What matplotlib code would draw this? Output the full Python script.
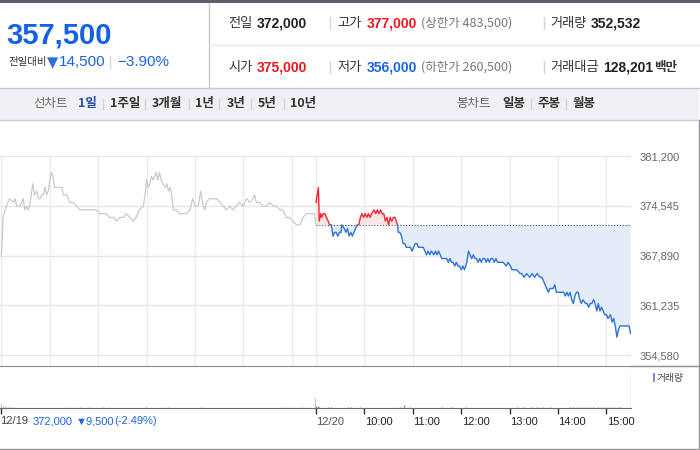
import matplotlib
matplotlib.use("Agg")
import matplotlib.pyplot as plt
from matplotlib.lines import Line2D
from matplotlib.patches import Rectangle
import numpy as np

plt.rcParams['font.family'] = ['Noto Sans CJK KR', 'DejaVu Sans']

# ---------------- data ----------------
current_price = "357,500"
change_abs = "14,500"
change_pct = "−3.90%"
prev_close = 372000
row1 = [("전일", "372,000", "#222222"), ("고가", "377,000", "#f0141e"), ("거래량", "352,532", "#222222")]
row2 = [("시가", "375,000", "#f0141e"), ("저가", "356,000", "#1d65e0"), ("거래대금", "128,201", "#222222")]
limit_up = "(상한가 483,500)"
limit_down = "(하한가 260,500)"
period_tabs = ["1일", "1주일", "3개월", "1년", "3년", "5년", "10년"]
candle_tabs = ["일봉", "주봉", "월봉"]

y_ticks = [354580, 361235, 367890, 374545, 381200]
time_ticks = [0, 60, 120, 180, 240, 300, 360]
time_labels = ["12/20", "10:00", "11:00", "12:00", "13:00", "14:00", "15:00"]
prev_day_label = "12/19"
prev_day_info = ["372,000", "▼9,500", "(-2.49%)"]

# 12/19 intraday (minutes after 9:00, price)
prev_series = [(0,368000),(1,370000),(2,373000),(6,374500),(10,375500),(15,375000),(17,375500),(19,374500),
    (23,374500),(25,375000),(27,375500),(29,374000),(31,374500),(33,374000),(35,374500),(37,376000),
    (39,377500),(41,376000),(44,376500),(46,375500),(48,375500),(50,376000),(52,376000),(54,377000),
    (56,376000),(58,376500),(60,378000),(62,379000),(64,378500),(66,377000),(70,377000),(75,377000),
    (77,376000),(79,376000),(81,376000),(85,375000),(89,375000),(93,374500),(97,374000),(101,374000),
    (106,374000),(110,374000),(114,374000),(118,374000),(122,373500),(126,373500),(130,373500),
    (134,373000),(139,373000),(143,372500),(147,373000),(151,373000),(155,373500),(159,373000),
    (163,372500),(167,373000),(171,374000),(176,374500),(178,376000),(180,378000),(182,377000),
    (184,377500),(186,378500),(188,378000),(190,378500),(192,379000),(194,378000),(196,379000),
    (198,378000),(200,377500),(203,377000),(205,377500),(207,376500),(209,377000),(211,376000),
    (213,374000),(217,374000),(221,373500),(225,373500),(229,373500),(234,374000),(237,375500),
    (240,374500),(244,374500),(247,376500),(250,374500),(252,374000),(254,375000),(258,375500),
    (262,375500),(267,375500),(271,375000),(275,374500),(279,374000),(283,374500),(287,374000),
    (291,374500),(295,375000),(300,374500),(304,375500),(308,375000),(312,375500),(314,376000),
    (316,375000),(320,375000),(324,374500),(328,374500),(333,375000),(337,374500),(341,374500),
    (345,374000),(349,374000),(353,373000),(357,373000),(361,372500),(366,372000),(370,372000),
    (372,372500),(374,373000),(378,373500),(382,373500),(388,373500),(390,372000)]

# 12/20 intraday (minutes after 9:00, price)
today_series = [(0,375000),(3,377000),(4,372500),(6,373500),(7,373000),(9,373500),(11,373500),(13,373000),
    (15,372500),(17,372000),(19,372000),(21,370500),(23,371000),(25,371000),(27,370500),(29,371000),
    (31,371000),(32,372000),(35,371500),(37,371000),(39,371500),(41,370500),(43,371000),(45,370500),
    (47,371000),(49,371500),(51,372000),(53,372000),(55,373000),(57,373500),(59,373000),(61,373500),
    (63,373000),(65,373500),(67,373000),(69,373500),(72,374000),(74,373500),(76,374000),(78,373500),
    (80,374000),(82,373500),(84,373500),(86,372500),(88,373000),(90,372000),(92,373000),(94,372500),
    (96,373000),(98,373000),(101,372000),(102,371000),(104,371000),(106,370500),(108,369500),
    (110,369500),(112,369000),(115,369000),(117,369000),(119,368500),(121,369000),(123,369500),
    (125,369500),(127,369000),(129,369000),(131,369000),(133,369000),(135,368500),(137,368000),
    (139,368500),(141,368000),(143,368500),(146,368000),(148,368500),(150,368000),(152,368500),
    (154,368000),(156,367500),(158,367500),(160,367500),(162,367500),(164,367000),(166,367500),
    (168,367000),(170,367000),(172,366500),(174,367000),(176,366500),(178,366500),(180,366000),
    (182,366500),(184,366000),(187,367000),(189,368500),(191,368000),(193,367500),(195,368000),
    (197,367500),(199,367500),(201,367000),(203,367500),(205,367000),(207,367500),(209,367500),
    (211,367000),(213,367500),(215,367000),(217,367500),(219,367500),(221,367000),(223,367500),
    (225,367000),(228,367000),(232,367000),(236,366500),(238,367000),(241,366500),(243,366000),
    (246,366000),(249,366000),(253,365500),(255,365500),(258,365000),(261,365500),(265,365000),
    (268,365500),(271,365000),(274,365500),(278,365000),(280,365000),(282,364500),(286,363500),
    (288,363000),(290,363500),(294,363500),(296,364000),(298,363000),(302,363000),(307,363000),
    (309,362500),(311,363000),(313,362500),(315,363000),(317,362000),(319,361500),(321,362500),
    (323,363000),(325,363000),(327,362000),(329,361500),(331,362000),(334,361500),(336,361500),
    (338,361000),(340,361500),(342,361500),(344,362000),(346,361500),(348,360500),(350,361500),
    (352,360500),(354,361000),(356,360500),(358,360000),(360,360000),(362,359500),(365,360000),
    (367,359000),(369,359500),(371,358500),(373,357000),(375,358000),(377,358500),(381,358500),
    (385,358500),(388,358500),(390,357500)]

prev_volume = [(0,6500),(2,4000),(4,3000),(6,2500),(8,2000),(10,2500),(12,1500),(14,2000),(84,1500),
    (97,1500),(108,1800),(126,2000),(134,2500),(179,3500),(207,1500),(248,1500),(258,1200),(347,1800),
    (353,1500),(362,1800),(370,1500),(374,1500),(389,17000)]
today_volume = [(0,4000),(2,3000),(4,2500),(15,1500),(19,1500),(40,1500),(44,1500),(55,1500),(104,1500),
    (109,5000),(117,1500),(156,2000),(168,1500),(186,1500),(249,1500),(258,2000),(266,1500),(274,2000),
    (282,1500),(290,1500),(315,2500),(319,1500),(324,2000),(329,1500),(334,2000),(339,1500),(344,2000),
    (349,1500),(354,2000),(359,1500),(364,2500),(369,2000),(374,2500),(377,1500),(390,60000)]

# ---------------- helpers ----------------
W, H = 700, 450
fig = plt.figure(figsize=(7, 4.5), dpi=100)
fig.patch.set_facecolor("white")

def fx(x): return x / W
def fy(y): return 1 - y / H

def hline(x0, x1, y, c, lw=1.0):
    fig.add_artist(Line2D([fx(x0), fx(x1)], [fy(y), fy(y)], color=c, lw=lw, transform=fig.transFigure))

def vline(x, y0, y1, c, lw=1.0):
    fig.add_artist(Line2D([fx(x), fx(x)], [fy(y0), fy(y1)], color=c, lw=lw, transform=fig.transFigure))

def rect(x0, y0, x1, y1, fc, ec="none", lw=0):
    fig.add_artist(Rectangle((fx(x0), fy(y1)), fx(x1) - fx(x0), fy(y0) - fy(y1), facecolor=fc,
                             edgecolor=ec, lw=lw, transform=fig.transFigure))

def txt(x, y, s, size=10, color="#333333", weight="normal", family=None, ha="left"):
    kw = {}
    if family is not None:
        kw["family"] = family
    fig.text(fx(x), fy(y), s, fontsize=size, color=color, weight=weight, ha=ha, va="center", **kw)

NUM = ["Liberation Sans", "DejaVu Sans"]
KR = ["Noto Sans CJK KR", "DejaVu Sans"]
BLUE = "#1d65e0"
RED = "#f0141e"

# ---------------- header ----------------
rect(0, 0, 700, 3, "#5b6068")
vline(209, 3, 88, "#c8c8c8")
hline(209, 700, 45, "#e6e6e6")

txt(6, 35, current_price, size=21, color="#1461e6", weight="bold", family=NUM)
txt(8, 62, "전일대비", size=7.5, color="#333333", family=KR)
txt(47, 62.5, "▼", size=10.5, color="#2b6fd6", family=["DejaVu Sans"])
txt(59, 62, change_abs, size=11, color=BLUE, family=NUM)
vline(110, 56, 68, "#d5d5d5")
txt(117, 62, change_pct, size=11, color=BLUE, family=NUM)

label_x = [228, 337, 550]
value_x = [257, 367, 591]
for rowy, row in ((23, row1), (67, row2)):
    for i, (lab, val, col) in enumerate(row):
        txt(label_x[i], rowy, lab, size=9.5, color="#333333", family=KR)
        vx = value_x[i] if not (rowy == 67 and i == 2) else 603
        txt(vx, rowy, val, size=10, color=col, weight="bold", family=NUM)
    vline(330, rowy - 6, rowy + 6, "#d5d5d5")
    vline(544, rowy - 6, rowy + 6, "#d5d5d5")
txt(421, 23, limit_up, size=9, color="#777777", family=KR)
txt(421, 67, limit_down, size=9, color="#777777", family=KR)
txt(654, 67, "백만", size=9, color="#333333", weight="bold", family=KR)

# tab bar
rect(0, 88, 699, 119.5, "#eff1f5")
hline(0, 699, 88, "#c5c9d0")
hline(0, 699, 119.5, "#c5c9d0")
txt(33, 104, "선차트", size=9, color="#666666", family=KR)
tab_x = [78, 110, 152, 195, 227, 258, 290]
sep_x = [102.5, 144.5, 188.5, 218.5, 251.5, 283.5]
for i, (t, x) in enumerate(zip(period_tabs, tab_x)):
    txt(x, 104, t, size=9, color="#2d4fa8" if i == 0 else "#333333", weight="bold", family=KR)
for x in sep_x:
    vline(x, 99, 109, "#d2d4d8")
txt(456, 104, "봉차트", size=9, color="#666666", family=KR)
for t, x in zip(candle_tabs, [502, 538, 573]):
    txt(x, 104, t, size=9, color="#333333", weight="bold", family=KR)
for x in [530.5, 565.5]:
    vline(x, 99, 109, "#d2d4d8")

# ---------------- price panel ----------------
PX_PER_MIN = 48.4 / 60.0
x_left = -316 / PX_PER_MIN
x_right = (630.7 - 316) / PX_PER_MIN
ax_right_px = 630.7
ax = fig.add_axes([0, fy(366), fx(ax_right_px), fy(120) - fy(366)])
ax.set_xlim(x_left, x_right)
y_top = 381200 + (156 - 120) * 133.57
y_bot = 354580 - (366 - 355.3) * 133.57
ax.set_ylim(y_bot, y_top)
for s in ax.spines.values():
    s.set_visible(False)
ax.set_xticks([])
ax.yaxis.tick_right()
ax.set_yticks(y_ticks)
ax.set_yticklabels([f"{v:,}" for v in y_ticks], fontsize=8, color="#666666", family=NUM)
ax.tick_params(axis="y", length=0, pad=6.7)
ax.set_facecolor("none")
for v in y_ticks:
    ax.axhline(v, color="#e6e6e6", lw=1.0, zorder=0)
hours_prev = [m - 390 for m in time_ticks]
ax.vlines(hours_prev + time_ticks, y_bot, y_ticks[-1], color="#ebebeb", lw=1.0, zorder=0)

pm = np.array([p[0] for p in prev_series]) - 390
pp = np.array([p[1] for p in prev_series])
tm = np.array([p[0] for p in today_series])
tp = np.array([p[1] for p in today_series])

ax.plot(pm, pp, color="#c5c7cc", lw=0.85, zorder=3)
ax.fill_between(tm, tp, prev_close, where=tp >= prev_close, interpolate=True, color="#fde4e5", lw=0, zorder=1)
ax.fill_between(tm, tp, prev_close, where=tp <= prev_close, interpolate=True, color="#e4ecf8", lw=0, zorder=1)
ax.plot([0, x_right - 0.5], [prev_close, prev_close], color="#555555", lw=0.8, ls=(0, (1, 1.6)), zorder=2)
up_clip = Rectangle((x_left, prev_close), x_right - x_left, 1e6, transform=ax.transData)
dn_clip = Rectangle((x_left, prev_close - 1e6), x_right - x_left, 1e6, transform=ax.transData)
l_up, = ax.plot(tm, tp, color="#f52530", lw=1.0, zorder=4)
l_up.set_clip_path(up_clip)
l_dn, = ax.plot(tm, tp, color="#2f73d8", lw=1.0, zorder=4)
l_dn.set_clip_path(dn_clip)

# ---------------- volume panel ----------------
axv = fig.add_axes([0, fy(408.3), fx(ax_right_px), fy(366) - fy(408.3)])
axv.set_xlim(x_left, x_right)
axv.set_ylim(0, 69000)
axv.set_facecolor("none")
for k in ("left", "right"):
    axv.spines[k].set_visible(False)
axv.spines["top"].set_color("#8c8c8c")
axv.spines["bottom"].set_color("#6a6a6a")
axv.set_yticks([])
vm = [v[0] - 390 for v in prev_volume]
vv = [v[1] for v in prev_volume]
axv.vlines(vm, 0, vv, color="#c8c8c8", lw=0.9)
tvm = [v[0] for v in today_volume]
tvv = [v[1] for v in today_volume]
axv.vlines(tvm, 0, tvv, color="#8c80c8", lw=0.9)
axv.set_xticks([-390] + time_ticks)
axv.set_xticklabels([])
axv.tick_params(axis="x", length=4, width=1, color="#333333", direction="out")
for t, lab in zip(time_ticks, time_labels):
    axv.text(t + 0.5, -0.33, lab, transform=axv.get_xaxis_transform(), fontsize=8,
             color="#555555" if t == 0 else "#222222", family=NUM, ha="left", va="center")
txt(0, 421.5, prev_day_label, size=8, color="#444444", family=NUM)
txt(33, 421.5, prev_day_info[0], size=8, color="#1d65e0", family=NUM)
txt(76, 421.5, prev_day_info[1], size=8, color="#1d65e0", family=NUM)
txt(114, 421.5, prev_day_info[2], size=8, color="#1d65e0", family=NUM)

# legend and frame
rect(652.5, 373, 654.5, 382, "#8c80c8")
txt(657, 377.5, "거래량", size=7, color="#444444", family=KR)
vline(698.5, 120, 449, "#9a9a9a")
hline(630.7, 698.5, 366, "#8c8c8c")
hline(0, 698.5, 449, "#9a9a9a")

fig.savefig("out.png", dpi=100)
